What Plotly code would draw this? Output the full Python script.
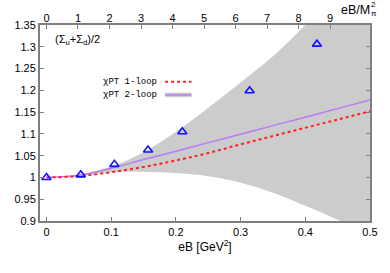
import plotly.graph_objects as go

# ---- data ----
eb_lat = [0.0, 0.053, 0.105, 0.157, 0.21, 0.314, 0.418]
sigma_lat = [1.0, 1.006, 1.030, 1.063, 1.105, 1.199, 1.306]

eb_curve = [0.0, 0.05, 0.1, 0.15, 0.2, 0.25, 0.3, 0.35, 0.4, 0.45, 0.5]
one_loop = [1.0, 1.003, 1.012, 1.024, 1.039, 1.056, 1.076, 1.095, 1.114, 1.133, 1.152]
two_loop = [1.0, 1.005, 1.021, 1.041, 1.060, 1.080, 1.099, 1.119, 1.138, 1.158, 1.178]
band_hi = [1.0, 1.006, 1.025, 1.058, 1.105, 1.160, 1.218, 1.278, 1.350, 1.430, 1.520]
band_lo = [1.0, 1.003, 1.012, 1.013, 1.010, 1.003, 0.988, 0.965, 0.935, 0.903, 0.868]

x_ticks = [0, 0.1, 0.2, 0.3, 0.4, 0.5]
x_ticklabels = ["0", "0.1", "0.2", "0.3", "0.4", "0.5"]
y_ticks = [0.9, 0.95, 1.0, 1.05, 1.1, 1.15, 1.2, 1.25, 1.3, 1.35]
y_ticklabels = ["0.9", "0.95", "1", "1.05", "1.1", "1.15", "1.2", "1.25", "1.3", "1.35"]
top_ticks = [0, 1, 2, 3, 4, 5, 6, 7, 8, 9]
m_pi_sq = 0.04871  # GeV^2, unit of top axis

x_range = [-0.01, 0.5]

fig = go.Figure()

fig.add_trace(go.Scatter(x=eb_curve, y=band_lo, mode="lines", line=dict(width=0, shape="spline"),
                         showlegend=False, hoverinfo="skip"))
fig.add_trace(go.Scatter(x=eb_curve, y=band_hi, mode="lines", line=dict(width=0, shape="spline"),
                         fill="tonexty", fillcolor="#cccccc", showlegend=False, hoverinfo="skip"))
fig.add_trace(go.Scatter(x=eb_curve, y=two_loop, mode="lines",
                         line=dict(color="#b77cf5", width=1.5, shape="spline"), showlegend=False))
fig.add_trace(go.Scatter(x=eb_curve, y=one_loop, mode="lines",
                         line=dict(color="#ff2020", width=2, dash="3px,3px", shape="spline"), showlegend=False))
fig.add_trace(go.Scatter(x=eb_lat, y=sigma_lat, mode="markers",
                         marker=dict(symbol="triangle-up-open", size=8, color="#1010ff",
                                     line=dict(width=1.6, color="#1010ff")),
                         showlegend=False))
# invisible trace to activate top axis
fig.add_trace(go.Scatter(x=[x_range[0] / m_pi_sq], y=[1.0], xaxis="x2", mode="markers",
                         marker=dict(opacity=0), showlegend=False, hoverinfo="skip"))

axis_col = "#7f7f7f"
font_sans = "Liberation Sans, Arial, sans-serif"

fig.update_layout(
    width=390, height=273,
    margin=dict(l=40, r=16, t=25, b=52),
    plot_bgcolor="white", paper_bgcolor="white",
    font=dict(family=font_sans, size=11, color="black"),
    xaxis=dict(range=x_range, tickvals=x_ticks, ticktext=x_ticklabels, ticks="inside", ticklen=4,
               tickcolor=axis_col, showline=True, linecolor=axis_col, linewidth=2, mirror=True,
               showgrid=False, zeroline=False,
               title=dict(text="eB [GeV<sup>2</sup>]", standoff=2, font=dict(size=12))),
    xaxis2=dict(range=[x_range[0] / m_pi_sq, x_range[1] / m_pi_sq], overlaying="x", side="top",
                tickvals=top_ticks, ticks="inside", ticklen=4, tickcolor=axis_col,
                showline=False, showgrid=False, zeroline=False),
    yaxis=dict(range=[0.9, 1.35], tickvals=y_ticks, ticktext=y_ticklabels, ticks="inside", ticklen=4,
               tickcolor=axis_col, showline=True, linecolor=axis_col, linewidth=2, mirror="ticks",
               showgrid=False, zeroline=False),
    showlegend=False,
)

mono = "Liberation Mono, Courier New, monospace"
fig.add_annotation(xref="paper", yref="paper", x=0.04, y=0.925, xanchor="left", yanchor="middle",
                   text="(Σ<sub>u</sub>+Σ<sub>d</sub>)/2", showarrow=False, font=dict(size=11))
# top axis label eB/M_pi^2 with stacked sub/superscript
fig.add_annotation(xref="paper", yref="paper", x=0.910, y=1.0765, xanchor="left", yanchor="middle",
                   text="eB/M", showarrow=False, font=dict(size=12.5), borderpad=0)
fig.add_annotation(xref="paper", yref="paper", x=1.001, y=1.104, xanchor="left", yanchor="middle",
                   text="2", showarrow=False, font=dict(size=8), borderpad=0)
fig.add_annotation(xref="paper", yref="paper", x=1.001, y=1.058, xanchor="left", yanchor="middle",
                   text="π", showarrow=False, font=dict(size=8), borderpad=0)
fig.add_annotation(xref="paper", yref="paper", x=0.362, y=0.71, xanchor="right", yanchor="middle",
                   text="χPT 1-loop", showarrow=False, font=dict(family=mono, size=9))
fig.add_annotation(xref="paper", yref="paper", x=0.362, y=0.643, xanchor="right", yanchor="middle",
                   text="χPT 2-loop", showarrow=False, font=dict(family=mono, size=9))
# legend samples
fig.add_shape(type="line", xref="paper", yref="paper", x0=0.379, x1=0.459, y0=0.71, y1=0.71,
              line=dict(color="#ff2020", width=2, dash="3px,3px"))
fig.add_shape(type="rect", xref="paper", yref="paper", x0=0.379, x1=0.459, y0=0.632, y1=0.655,
              line=dict(width=0), fillcolor="#cccccc")
fig.add_shape(type="line", xref="paper", yref="paper", x0=0.379, x1=0.459, y0=0.643, y1=0.643,
              line=dict(color="#b77cf5", width=1.5))

fig.write_html("out.html", config={"displayModeBar": False},
               post_script="document.body.style.margin='0';")
